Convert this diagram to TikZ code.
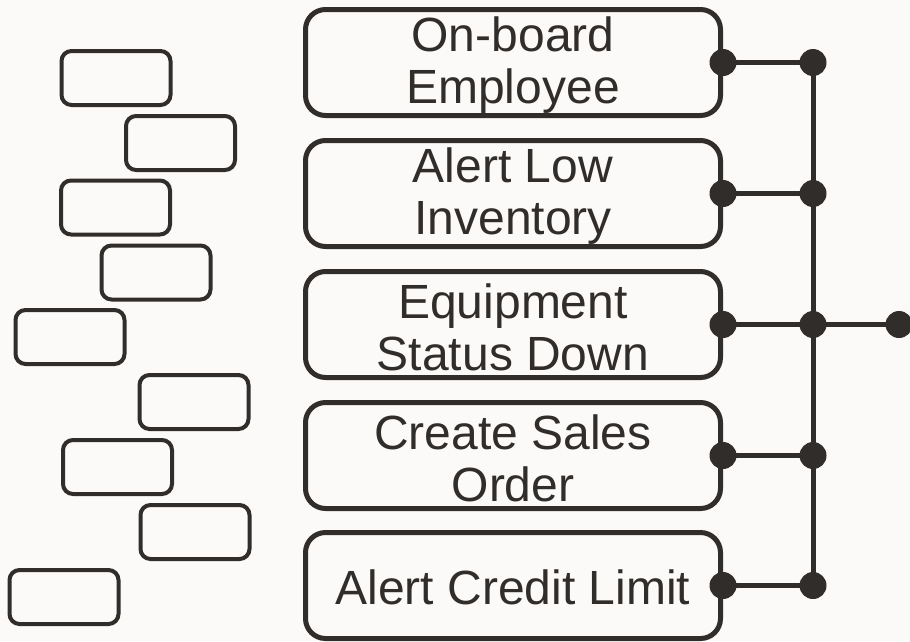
\documentclass[tikz,border=0pt]{standalone}
\usepackage{fontspec}
\setmainfont{Liberation Sans}
\definecolor{bg}{HTML}{FBFAF8}
\definecolor{ink}{HTML}{312D2A}
\tikzset{
  task/.style={draw=ink, line width=5pt, rounded corners=20pt, fill=bg,
    minimum width=415pt, minimum height=106pt, inner sep=0pt},
  lbl/.style={text=ink, align=center, font=\fontsize{48}{52}\selectfont, inner sep=0pt},
  small/.style={draw=ink, line width=4pt, rounded corners=10pt,
    minimum width=109pt, minimum height=54pt, inner sep=0pt},
  dot/.style={circle, fill=ink, minimum size=27pt, inner sep=0pt},
  wire/.style={draw=ink, line width=5pt}
}
\begin{document}
\begin{tikzpicture}[x=1pt,y=-1pt]
\fill[bg] (0,0) rectangle (910,641);
\useasboundingbox (0,0) rectangle (910,641);
% left small boxes
\node[small] (s1) at (116,78) {};
\node[small] (s2) at (180.5,143) {};
\node[small] (s3) at (115.5,207.5) {};
\node[small] (s4) at (156,272.5) {};
\node[small] (s5) at (70,337) {};
\node[small] (s6) at (194,402) {};
\node[small] (s7) at (117.5,467) {};
\node[small] (s8) at (195,532) {};
\node[small] (s9) at (64,597) {};
% task boxes
\node[task] (t1) at (513,62.5) {};
\node[task] (t2) at (513,193.5) {};
\node[task] (t3) at (513,324.5) {};
\node[task] (t4) at (513,455.5) {};
\node[task] (t5) at (513,585.5) {};
\node[lbl] (l1) at ([yshift=-3pt]t1.center) {On-board\\Employee};
\node[lbl] (l2) at ([yshift=-3pt]t2.center) {Alert Low\\Inventory};
\node[lbl] (l3) at ([yshift=-3pt]t3.center) {Equipment\\Status Down};
\node[lbl] (l4) at ([yshift=-3pt]t4.center) {Create Sales\\Order};
\node[lbl] (l5) at ([yshift=-2pt]t5.center) {Alert Credit Limit};
% junctions
\coordinate (jx) at (813,0);
\coordinate (ox) at (899,0);
\foreach \i in {1,...,5}{
  \coordinate (d\i) at (t\i.east);
  \coordinate (j\i) at (jx |- d\i);
}
\coordinate (out) at (ox |- j3);
\draw[wire] (j1) -- (j5);
\foreach \i in {1,...,5}{
  \draw[wire] (d\i) -- (j\i);
}
\draw[wire] (j3) -- (out);
\foreach \i in {1,...,5}{
  \node[dot] (dd\i) at (d\i) {};
  \node[dot] (jj\i) at (j\i) {};
}
\node[dot] (oo) at (out) {};
\end{tikzpicture}
\end{document}
